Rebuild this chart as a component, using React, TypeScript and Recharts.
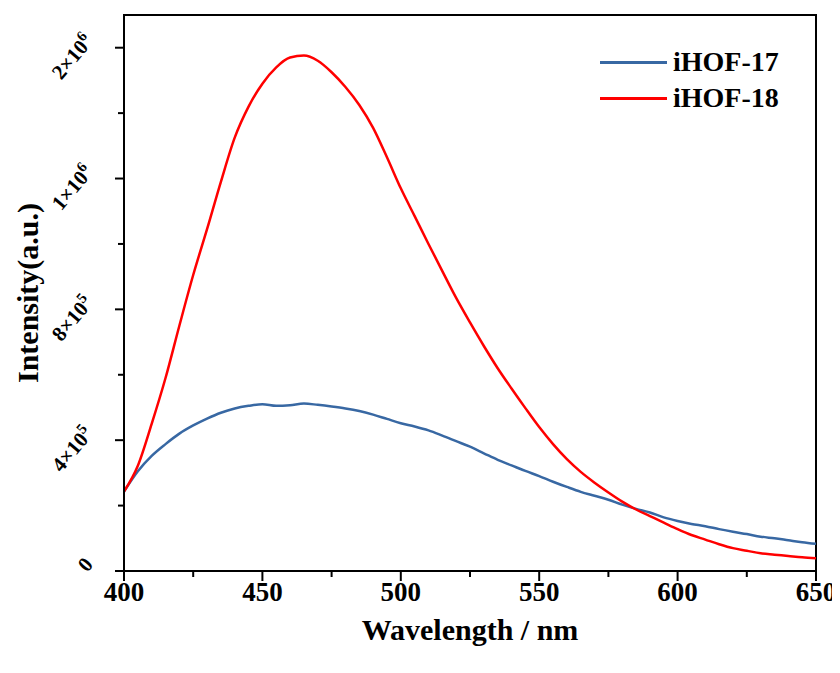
import React from "react";
import {
  Legend,
  Line,
  LineChart,
  ReferenceArea,
  XAxis,
  YAxis,
} from "recharts";

const wavelengths = [
  400, 405, 410, 415, 420, 425, 430, 435, 440, 445, 450, 455, 460, 465, 470,
  475, 480, 485, 490, 495, 500, 505, 510, 515, 520, 525, 530, 535, 540, 545,
  550, 555, 560, 565, 570, 575, 580, 585, 590, 595, 600, 605, 610, 615, 620,
  625, 630, 635, 640, 645, 650,
];

const hof17 = [
  243000, 305000, 352000, 388000, 420000, 445000, 466000, 484000, 497000,
  505000, 510000, 505000, 507000, 512000, 508000, 503000, 497000, 489000,
  478000, 465000, 452000, 442000, 430000, 414000, 397000, 380000, 360000,
  340000, 323000, 306000, 290000, 273000, 257000, 242000, 230000, 218000,
  203000, 190000, 179000, 164000, 153000, 144000, 137000, 128000, 120000,
  113000, 105000, 100000, 94000, 88000, 83000,
];

const hof18 = [
  243000, 322000, 450000, 590000, 750000, 905000, 1045000, 1190000, 1325000,
  1420000, 1490000, 1540000, 1570000, 1576000, 1560000, 1525000, 1480000,
  1425000, 1355000, 1265000, 1170000, 1085000, 1000000, 917000, 835000, 760000,
  688000, 620000, 558000, 498000, 440000, 388000, 342000, 303000, 270000,
  240000, 212000, 188000, 168000, 148000, 128000, 110000, 96000, 82000, 70000,
  62000, 54000, 50000, 46000, 42000, 39000,
];

const xTicks = [400, 425, 450, 475, 500, 525, 550, 575, 600, 625, 650];
const xMajor = [400, 450, 500, 550, 600, 650];

const yTicks = [0, 200000, 400000, 600000, 800000, 1000000, 1200000, 1400000, 1600000];
const yMajor = [0, 400000, 800000, 1200000, 1600000];
const yLabelBase = ["0", "4×10", "8×10", "1×10", "2×10"];
const yLabelExp = ["", "5", "5", "6", "6"];

const seriesNames = ["iHOF-17", "iHOF-18"];
const seriesColors = ["#3868a3", "#ff0000"];

const data = wavelengths.map((wl, i) => ({
  wl,
  hof17: hof17[i],
  hof18: hof18[i],
}));

const FONT = '"Liberation Serif", "Times New Roman", serif';

const XTick = (props: any) => {
  const { x, y, payload } = props;
  const major = xMajor.includes(payload.value);
  return (
    <g>
      <line x1={x} x2={x} y1={y} y2={y + (major ? 10 : 6)} stroke="#000" strokeWidth={2} />
      {major && (
        <text
          x={x}
          y={y + 30}
          textAnchor="middle"
          fontFamily={FONT}
          fontWeight="bold"
          fontSize={27}
          fill="#000"
        >
          {payload.value}
        </text>
      )}
    </g>
  );
};

const YTick = (props: any) => {
  const { x, y, payload } = props;
  const idx = yMajor.indexOf(payload.value);
  const major = idx >= 0;
  const ax = x - 30;
  const ay = y - 6;
  return (
    <g>
      <line x1={x} x2={x - (major ? 9 : 6)} y1={y} y2={y} stroke="#000" strokeWidth={2} />
      {major && (
        <text
          x={ax}
          y={ay}
          textAnchor="end"
          transform={`rotate(-50, ${ax}, ${ay})`}
          fontFamily={FONT}
          fontWeight="bold"
          fontSize={21}
          fill="#000"
        >
          {yLabelBase[idx]}
          {yLabelExp[idx] && (
            <tspan dy={-8} fontSize={15}>
              {yLabelExp[idx]}
            </tspan>
          )}
        </text>
      )}
    </g>
  );
};

const XTitle = (props: any) => {
  const { viewBox } = props;
  return (
    <text
      x={viewBox.x + viewBox.width / 2}
      y={viewBox.y + 69}
      textAnchor="middle"
      fontFamily={FONT}
      fontWeight="bold"
      fontSize={30}
      fill="#000"
    >
      Wavelength / nm
    </text>
  );
};

const YTitle = (props: any) => {
  const { viewBox } = props;
  const cx = 19;
  const cy = viewBox.y + viewBox.height / 2;
  return (
    <text
      x={cx}
      y={cy}
      textAnchor="middle"
      dominantBaseline="central"
      transform={`rotate(-90, ${cx}, ${cy})`}
      fontFamily={FONT}
      fontWeight="bold"
      fontSize={30}
      fill="#000"
    >
      Intensity(a.u.)
    </text>
  );
};

const renderLegend = () => (
  <div style={{ fontFamily: FONT }}>
    {seriesNames.map((name, i) => (
      <div key={name} style={{ display: "flex", alignItems: "center", height: 36 }}>
        <span
          style={{
            display: "inline-block",
            width: 67,
            height: 3,
            background: seriesColors[i],
            marginRight: 6,
          }}
        />
        <span style={{ fontWeight: "bold", fontSize: 28, color: "#000" }}>{name}</span>
      </div>
    ))}
  </div>
);

export default function App() {
  return (
    <LineChart
      width={832}
      height={657}
      data={data}
      margin={{ top: 7, right: 24, bottom: 0, left: 0 }}
    >
      <XAxis
        dataKey="wl"
        type="number"
        domain={[400, 650]}
        ticks={xTicks}
        height={94}
        tickSize={0}
        tickMargin={0}
        tickLine={false}
        tick={<XTick />}
        axisLine={{ stroke: "#000", strokeWidth: 2 }}
        label={<XTitle />}
      />
      <YAxis
        type="number"
        domain={[0, 1700000]}
        ticks={yTicks}
        width={116}
        tickSize={0}
        tickMargin={0}
        tickLine={false}
        tick={<YTick />}
        axisLine={{ stroke: "#000", strokeWidth: 2 }}
        label={<YTitle />}
      />
      <Legend
        content={renderLegend}
        layout="vertical"
        verticalAlign="middle"
        align="center"
        wrapperStyle={{ left: 592, top: 36, width: 200, height: 72 }}
      />
      <Line
        type="monotone"
        dataKey="hof17"
        name={seriesNames[0]}
        stroke={seriesColors[0]}
        strokeWidth={2.5}
        dot={false}
        isAnimationActive={false}
      />
      <Line
        type="monotone"
        dataKey="hof18"
        name={seriesNames[1]}
        stroke={seriesColors[1]}
        strokeWidth={2.5}
        dot={false}
        isAnimationActive={false}
      />
      <ReferenceArea
        x1={400}
        x2={650}
        y1={0}
        y2={1700000}
        fill="none"
        fillOpacity={0}
        stroke="#000"
        strokeWidth={2}
        strokeOpacity={1}
      />
    </LineChart>
  );
}
